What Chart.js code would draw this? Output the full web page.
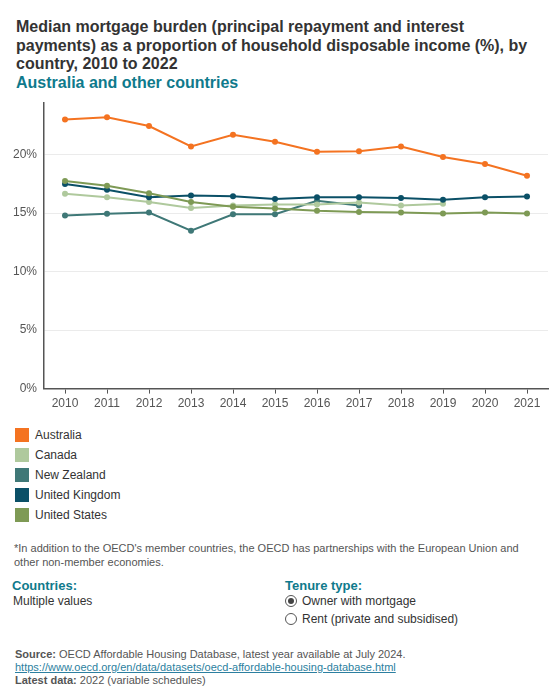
<!DOCTYPE html>
<html>
<head>
<meta charset="utf-8">
<script src="https://cdn.jsdelivr.net/npm/chart.js@4"></script>
<style>
  body { margin: 0; width: 560px; height: 700px; font-family: "Liberation Sans", Arial, sans-serif; background: #fff; position: relative; overflow: hidden; }
  .title { position: absolute; left: 16px; top: 18px; width: 530px; font-size: 16px; font-weight: bold; color: #333; line-height: 18.5px; }
  .subtitle { color: #0f7a8c; }
  #wrap { position: absolute; left: 0; top: 89px; width: 560px; height: 325px; }
  #legend { position: absolute; left: 15px; top: 425px; font-size: 12px; color: #333; }
  #legend div { height: 20px; display: flex; align-items: center; }
  #legend span.box { width: 14px; height: 14px; display: inline-block; margin-right: 6px; }
  .note { position: absolute; left: 14px; top: 542px; width: 530px; font-size: 11px; color: #555; line-height: 13.5px; }
  .lbl { position: absolute; font-size: 13px; font-weight: bold; color: #0f7a8c; }
  .val { position: absolute; font-size: 12px; color: #333; }
  .radio { position: absolute; left: 285px; font-size: 12px; color: #333; display: flex; align-items: center; }
  .radio i { width: 12px; height: 12px; border: 1px solid #555; border-radius: 50%; display: inline-block; margin-right: 5px; position: relative; box-sizing: border-box; }
  .radio i.on::after { content: ""; position: absolute; left: 2px; top: 2px; width: 6px; height: 6px; border-radius: 50%; background: #444; }
  .src { position: absolute; left: 15px; top: 648px; font-size: 11px; color: #555; line-height: 13px; }
  .src a { color: #2c7fa0; text-decoration: underline; }
</style>
</head>
<body>
<div class="title">Median mortgage burden (principal repayment and interest payments) as a proportion of household disposable income (%), by country, 2010 to 2022<br><span class="subtitle">Australia and other countries</span></div>
<div id="wrap"><canvas id="chart"></canvas></div>
<div id="legend"></div>
<div class="note">*In addition to the OECD's member countries, the OECD has partnerships with the European Union and other non-member economies.</div>
<div class="lbl" style="left:12px;top:578px">Countries:</div>
<div class="val" style="left:13px;top:594px">Multiple values</div>
<div class="lbl" style="left:285px;top:578px">Tenure type:</div>
<div class="radio" style="top:594px"><i class="on"></i>Owner with mortgage</div>
<div class="radio" style="top:612px"><i></i>Rent (private and subsidised)</div>
<div class="src"><b>Source:</b> OECD Affordable Housing Database, latest year available at July 2024.<br><a>https://www.oecd.org/en/data/datasets/oecd-affordable-housing-database.html</a><br><b>Latest data:</b> 2022 (variable schedules)</div>
<script>
// ------------------------
// Data
// ------------------------
const years = ["2010", "2011", "2012", "2013", "2014", "2015", "2016", "2017", "2018", "2019", "2020", "2021"];
const countries = ["Australia", "Canada", "New Zealand", "United Kingdom", "United States"];
const colors = ["#f47321", "#afc99d", "#3f7877", "#0b5067", "#7e9a55"];

const australia = [23.0, 23.2, 22.45, 20.7, 21.7, 21.1, 20.25, 20.3, 20.7, 19.8, 19.2, 18.2];
const canada = [16.65, 16.35, 15.95, 15.45, 15.65, 15.75, 15.75, 15.9, 15.65, 15.8, null, null];
const newZealand = [14.8, 14.95, 15.05, 13.5, 14.9, 14.9, 16.05, 15.65, null, null, null, null];
const unitedKingdom = [17.5, 17.0, 16.35, 16.5, 16.45, 16.2, 16.35, 16.35, 16.3, 16.15, 16.35, 16.42];
const unitedStates = [17.75, 17.35, 16.7, 15.95, 15.55, 15.4, 15.2, 15.1, 15.05, 14.98, 15.05, 14.98];

const yTicks = [0, 5, 10, 15, 20];
const seriesValues = [australia, canada, newZealand, unitedKingdom, unitedStates];

// draw order: Canada and NZ under the darker lines
const drawOrder = [0, 3, 4, 2, 1];

const datasets = countries.map((name, i) => ({
    label: name,
    data: seriesValues[i],
    borderColor: colors[i],
    backgroundColor: colors[i],
    borderWidth: 2,
    pointRadius: 3,
    pointBorderWidth: 0,
    pointHoverRadius: 3,
    spanGaps: false,
    order: drawOrder[i],
}));

// legend as plain html, like the original widget
const legendEl = document.getElementById("legend");
countries.forEach((name, i) => {
    const row = document.createElement("div");
    row.innerHTML = `<span class="box" style="background:${colors[i]}"></span>${name}`;
    legendEl.appendChild(row);
});

new Chart(document.getElementById("chart"), {
    type: "line",
    data: { labels: years, datasets },
    options: {
        responsive: true,
        maintainAspectRatio: false,
        animation: false,
        layout: { padding: { left: 6, right: 12, top: 6, bottom: 0 } },
        plugins: { legend: { display: false }, tooltip: { enabled: false } },
        scales: {
            x: {
                offset: true,
                grid: { offset: false, drawOnChartArea: false, drawTicks: true, tickLength: 5, color: "#555" },
                border: { color: "#555", width: 1.5 },
                ticks: { color: "#555", font: { family: "Liberation Sans", size: 12 }, padding: 3, maxRotation: 0 },
            },
            y: {
                min: 0,
                max: 24.4,
                afterBuildTicks: (axis) => { axis.ticks = yTicks.map(v => ({ value: v })); },
                grid: { color: (ctx) => ctx.tick && ctx.tick.value === 0 ? "rgba(0,0,0,0)" : "#ebebeb", drawTicks: false },
                border: { color: "#555", width: 1.5 },
                ticks: { color: "#555", font: { family: "Liberation Sans", size: 12 }, padding: 7, callback: (v) => v + "%" },
            },
        },
    },
});
</script>
</body>
</html>
